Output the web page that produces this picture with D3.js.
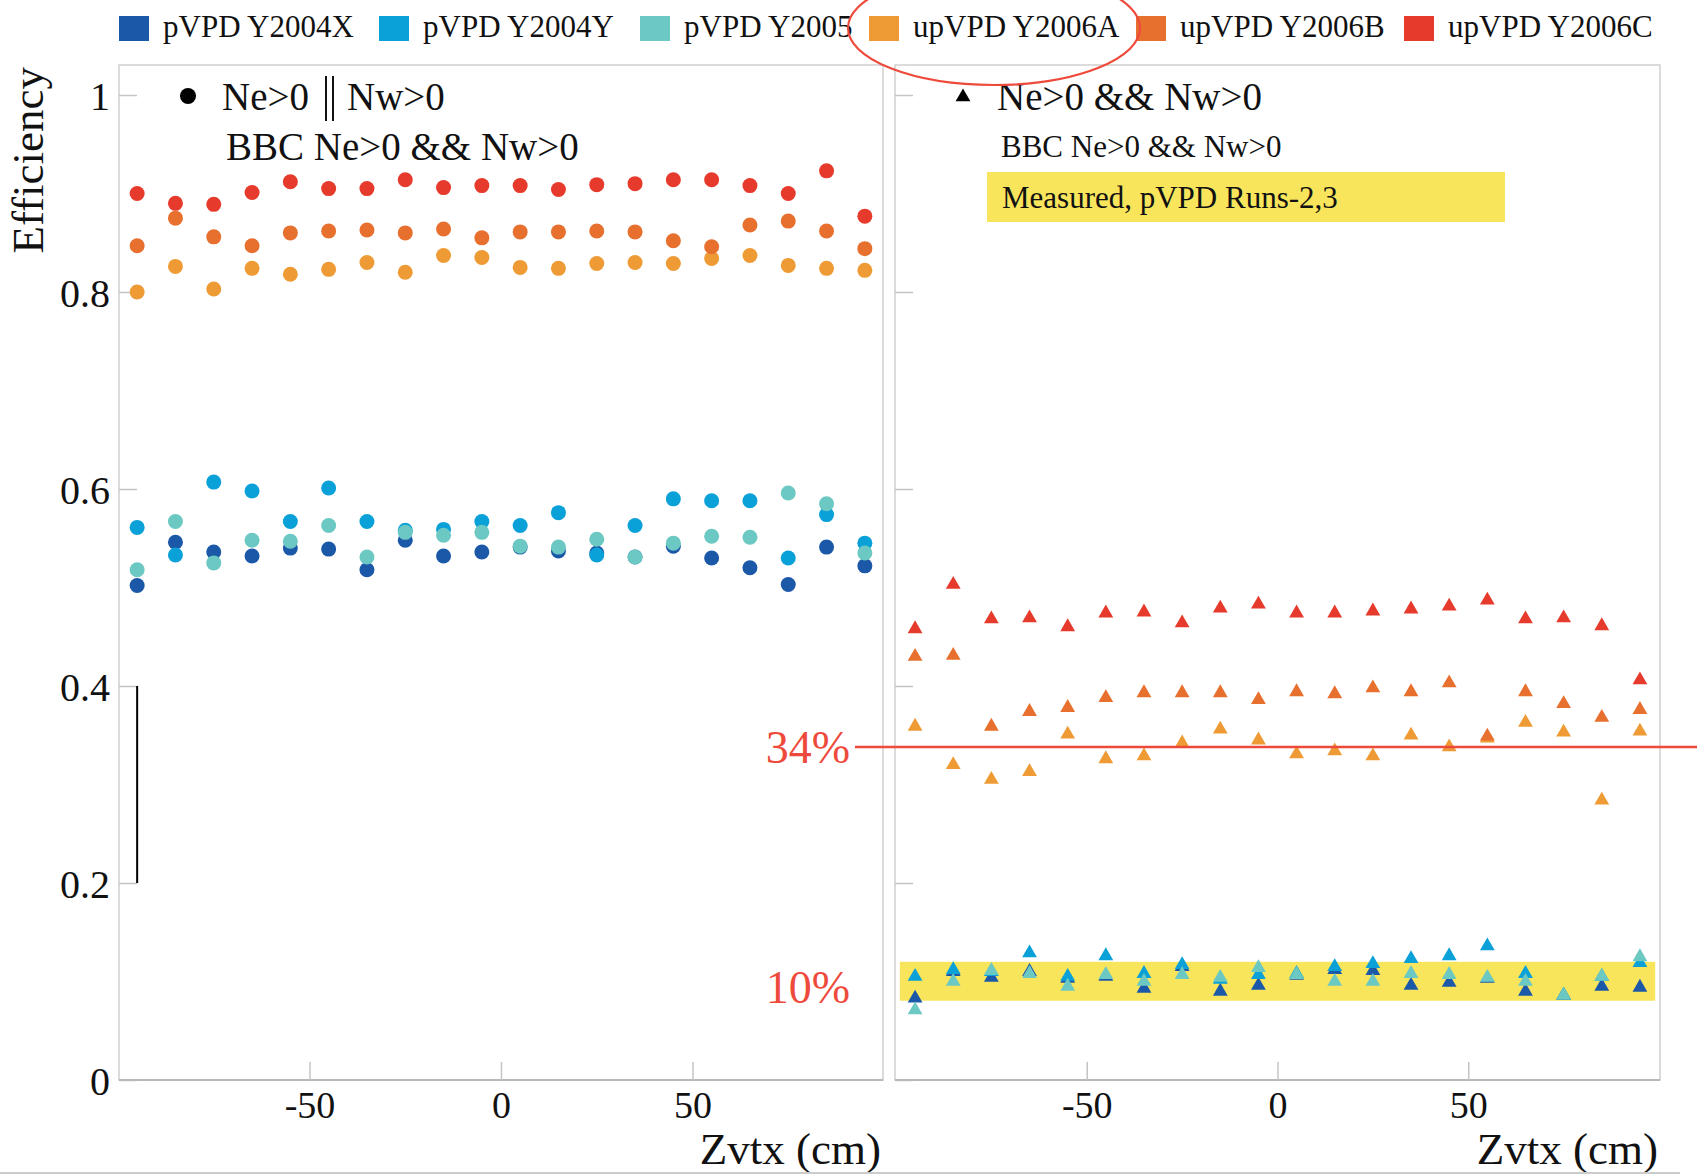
<!DOCTYPE html>
<html>
<head>
<meta charset="utf-8">
<script src="https://cdn.jsdelivr.net/npm/d3@7"></script>
<style>
  body { margin: 0; background: #fff; }
  svg text { font-family: "Liberation Serif", "Times New Roman", serif; }
</style>
</head>
<body>
<div id="chart"></div>
<script>
// z vertex bins (cm)
var zvtx = [-95, -85, -75, -65, -55, -45, -35, -25, -15, -5, 5, 15, 25, 35, 45, 55, 65, 75, 85, 95];

var seriesNames = ["pVPD Y2004X", "pVPD Y2004Y", "pVPD Y2005", "upVPD Y2006A", "upVPD Y2006B", "upVPD Y2006C"];
var seriesColors = ["#1c58a8", "#0aa0d8", "#6cc8c2", "#ef9b35", "#e8702e", "#e63b2c"];

// left panel: Ne>0 || Nw>0
var or_Y2004X = [0.502, 0.546, 0.536, 0.532, 0.540, 0.539, 0.518, 0.548, 0.532, 0.536, 0.541, 0.537, 0.535, 0.531, 0.542, 0.530, 0.520, 0.503, 0.541, 0.522];
var or_Y2004Y = [0.561, 0.533, 0.607, 0.598, 0.567, 0.601, 0.567, 0.558, 0.559, 0.567, 0.563, 0.576, 0.533, 0.563, 0.590, 0.588, 0.588, 0.530, 0.574, 0.545];
var or_Y2005  = [0.518, 0.567, 0.525, 0.548, 0.547, 0.563, 0.531, 0.556, 0.553, 0.556, 0.542, 0.541, 0.549, 0.531, 0.545, 0.552, 0.551, 0.596, 0.585, 0.535];
var or_Y2006A = [0.800, 0.826, 0.803, 0.824, 0.818, 0.823, 0.830, 0.820, 0.837, 0.835, 0.825, 0.824, 0.829, 0.830, 0.829, 0.834, 0.837, 0.827, 0.824, 0.822];
var or_Y2006B = [0.847, 0.875, 0.856, 0.847, 0.860, 0.862, 0.863, 0.860, 0.864, 0.855, 0.861, 0.861, 0.862, 0.861, 0.852, 0.846, 0.868, 0.872, 0.862, 0.844];
var or_Y2006C = [0.900, 0.890, 0.889, 0.901, 0.912, 0.905, 0.905, 0.914, 0.906, 0.908, 0.908, 0.904, 0.909, 0.910, 0.914, 0.914, 0.908, 0.900, 0.923, 0.877];

// right panel: Ne>0 && Nw>0
var and_Y2004X = [0.083, 0.110, 0.104, 0.110, 0.103, 0.105, 0.093, 0.115, 0.090, 0.096, 0.106, 0.112, 0.111, 0.096, 0.099, 0.103, 0.090, 0.086, 0.095, 0.094];
var and_Y2004Y = [0.105, 0.112, 0.110, 0.129, 0.105, 0.126, 0.108, 0.117, 0.102, 0.107, 0.108, 0.115, 0.118, 0.123, 0.126, 0.136, 0.108, 0.086, 0.105, 0.119];
var and_Y2005  = [0.071, 0.100, 0.111, 0.108, 0.095, 0.107, 0.100, 0.107, 0.104, 0.114, 0.107, 0.100, 0.100, 0.108, 0.107, 0.104, 0.100, 0.086, 0.105, 0.125];
var and_Y2006A = [0.359, 0.320, 0.305, 0.313, 0.351, 0.326, 0.329, 0.342, 0.356, 0.345, 0.331, 0.334, 0.329, 0.350, 0.338, 0.347, 0.363, 0.353, 0.284, 0.354];
var and_Y2006B = [0.430, 0.431, 0.359, 0.374, 0.378, 0.388, 0.393, 0.393, 0.393, 0.386, 0.394, 0.392, 0.398, 0.394, 0.403, 0.349, 0.394, 0.382, 0.368, 0.376];
var and_Y2006C = [0.458, 0.503, 0.468, 0.469, 0.460, 0.474, 0.475, 0.464, 0.479, 0.483, 0.474, 0.474, 0.476, 0.478, 0.481, 0.487, 0.468, 0.469, 0.461, 0.406];

var xTicks = [-50, 0, 50];
var yTicks = [0, 0.2, 0.4, 0.6, 0.8, 1];

var width = 1697, height = 1175;
var frameTop = 65, frameBottom = 1080;
var serif = "'Liberation Serif', 'Times New Roman', serif";

var svg = d3.select("#chart").append("svg")
	.attr("width", width)
	.attr("height", height)
	.attr("font-family", serif);

var y = d3.scaleLinear().domain([0, 1]).range([1080, 95]);

var panels = [
	{left: 119, right: 883, range: [118, 884], marker: "circle",
	 data: [or_Y2004X, or_Y2004Y, or_Y2005, or_Y2006A, or_Y2006B, or_Y2006C]},
	{left: 895, right: 1660, range: [896, 1659], marker: "triangle",
	 data: [and_Y2004X, and_Y2004Y, and_Y2005, and_Y2006A, and_Y2006B, and_Y2006C]}
];

var tri = d3.symbol().type(d3.symbolTriangle).size(95);
var plainFmt = function(d){ return String(d); }; // keep ascii hyphen for negatives

panels.forEach(function(p, pi){
	var x = d3.scaleLinear().domain([-100, 100]).range(p.range);
	p.x = x;
	var g = svg.append("g");

	// frame
	g.append("rect")
		.attr("x", p.left).attr("y", frameTop)
		.attr("width", p.right - p.left).attr("height", frameBottom - frameTop)
		.attr("fill", "none").attr("stroke", "#cfcfcf").attr("stroke-width", 1.5);

	// y ticks (inside)
	var ya = g.append("g")
		.attr("transform", "translate(" + p.left + ",0)")
		.call(d3.axisRight(y).tickValues(yTicks).tickSize(18).tickFormat(plainFmt));
	ya.attr("font-family", serif);
	ya.select(".domain").remove();
	ya.selectAll("line").attr("stroke", "#c4c4c4").attr("stroke-width", 1.5);
	if (pi == 0) {
		ya.selectAll("text")
			.attr("x", -9).attr("dy", "0.35em")
			.attr("text-anchor", "end")
			.attr("font-size", 40).attr("fill", "#111");
	} else {
		ya.selectAll("text").remove();
	}

	// x ticks (inside, upward)
	var xa = g.append("g")
		.attr("transform", "translate(0," + frameBottom + ")")
		.call(d3.axisBottom(x).tickValues(xTicks).tickSizeInner(-18).tickSizeOuter(0).tickFormat(plainFmt));
	xa.attr("font-family", serif);
	xa.select(".domain").attr("stroke", "#b8b8b8").attr("stroke-width", 2)
		.attr("d", "M" + p.left + ",0H" + p.right);
	xa.selectAll("line").attr("stroke", "#c4c4c4").attr("stroke-width", 1.5);
	xa.selectAll("text")
		.attr("y", 38).attr("dy", 0)
		.attr("font-size", 38).attr("fill", "#111");

	// x title
	g.append("text")
		.attr("x", p.right - 2).attr("y", 1164)
		.attr("text-anchor", "end")
		.attr("font-size", 45).attr("fill", "#111")
		.text("Zvtx (cm)");

	// yellow band under the coincidence points
	if (pi == 1) {
		g.append("rect")
			.attr("x", x(-99)).attr("y", y(0.12))
			.attr("width", x(99) - x(-99)).attr("height", y(0.0805) - y(0.12))
			.attr("fill", "#f8e55c");
	}

	// points
	p.data.forEach(function(vals, si){
		var pts = zvtx.map(function(z, i){ return {z: z, v: vals[i]}; });
		if (p.marker == "circle") {
			g.selectAll(".c" + si).data(pts).enter().append("circle")
				.attr("cx", function(d){ return x(d.z); })
				.attr("cy", function(d){ return y(d.v); })
				.attr("r", 7.5)
				.attr("fill", seriesColors[si]);
		} else {
			g.selectAll(".t" + si).data(pts).enter().append("path")
				.attr("d", tri)
				.attr("transform", function(d){ return "translate(" + x(d.z) + "," + y(d.v) + ")"; })
				.attr("fill", seriesColors[si]);
		}
	});
});

// scale bar in left panel (0.2 to 0.4)
svg.append("line")
	.attr("x1", panels[0].x(-95)).attr("x2", panels[0].x(-95))
	.attr("y1", y(0.4)).attr("y2", y(0.2))
	.attr("stroke", "#000").attr("stroke-width", 2);

// y title
svg.append("text")
	.attr("transform", "translate(43,67) rotate(-90)")
	.attr("text-anchor", "end")
	.attr("font-size", 45).attr("fill", "#111")
	.text("Efficiency");

// panel labels
svg.append("circle").attr("cx", 188).attr("cy", 96).attr("r", 8).attr("fill", "#000");
svg.append("text").attr("x", 222).attr("y", 110)
	.attr("font-size", 39).attr("fill", "#111")
	.text("Ne>0");
// tall double bar "||"
[326, 333].forEach(function(bx){
	svg.append("line").attr("x1", bx).attr("x2", bx).attr("y1", 76).attr("y2", 121)
		.attr("stroke", "#111").attr("stroke-width", 2);
});
svg.append("text").attr("x", 347).attr("y", 110)
	.attr("font-size", 39).attr("fill", "#111")
	.text("Nw>0");
svg.append("text").attr("x", 226).attr("y", 160)
	.attr("font-size", 39).attr("fill", "#111")
	.text("BBC Ne>0 && Nw>0");

svg.append("path").attr("d", d3.symbol().type(d3.symbolTriangle).size(95))
	.attr("transform", "translate(963,97)").attr("fill", "#000");
svg.append("text").attr("x", 997).attr("y", 110)
	.attr("font-size", 39).attr("fill", "#111")
	.text("Ne>0 && Nw>0");
svg.append("text").attr("x", 1001).attr("y", 157)
	.attr("font-size", 31).attr("fill", "#111")
	.text("BBC Ne>0 && Nw>0");
svg.append("rect").attr("x", 987).attr("y", 172).attr("width", 518).attr("height", 50)
	.attr("fill", "#f8e55c");
svg.append("text").attr("x", 1002).attr("y", 208)
	.attr("font-size", 31).attr("fill", "#111")
	.text("Measured, pVPD Runs-2,3");

// legend
var legendX = [119, 379, 640, 869, 1136, 1404];
var lg = svg.selectAll(".leg").data(seriesNames).enter().append("g")
	.attr("transform", function(d, i){ return "translate(" + legendX[i] + ",0)"; });
lg.append("rect").attr("x", 0).attr("y", 16).attr("width", 30).attr("height", 25)
	.attr("fill", function(d, i){ return seriesColors[i]; });
lg.append("text").attr("x", 44).attr("y", 37)
	.attr("font-size", 31).attr("fill", "#111")
	.text(function(d){ return d; });

// red annotations
var red = "#ee4a3c";
svg.append("line")
	.attr("x1", 855).attr("x2", width)
	.attr("y1", y(0.338)).attr("y2", y(0.338))
	.attr("stroke", red).attr("stroke-width", 2.5);
svg.append("text").attr("x", 850).attr("y", 763).attr("text-anchor", "end")
	.attr("font-size", 46).attr("fill", red).text("34%");
svg.append("text").attr("x", 850).attr("y", 1003).attr("text-anchor", "end")
	.attr("font-size", 46).attr("fill", red).text("10%");
svg.append("ellipse").attr("cx", 994).attr("cy", 28).attr("rx", 146).attr("ry", 57)
	.attr("fill", "none").attr("stroke", red).attr("stroke-width", 2.2);

// bottom rule
svg.append("line").attr("x1", 0).attr("x2", 1680).attr("y1", 1173).attr("y2", 1173)
	.attr("stroke", "#cccccc").attr("stroke-width", 2);
</script>
</body>
</html>
